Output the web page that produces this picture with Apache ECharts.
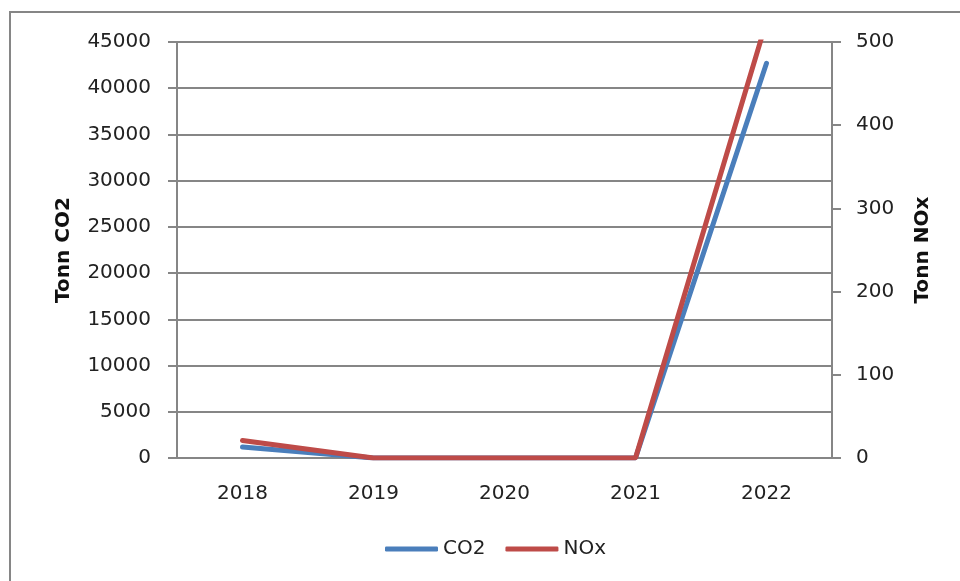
<!DOCTYPE html>
<html lang="en">
<head>
    <meta charset="UTF-8">
    <title>Tonn CO2 / NOx</title>
    <script src="https://cdn.jsdelivr.net/npm/echarts@6/dist/echarts.min.js"></script>
</head>
<body style="margin:0;background:#fff;">
    <div id="main" style="width:960px;height:581px;"></div>
</body>
<script type="text/javascript">
    // data
    var years = ['2018', '2019', '2020', '2021', '2022'];
    var co2 = [1200, 0, 0, 0, 42700];
    var nox = [21, 0, 0, 0, 525];

    var gray = '#868686';
    var font = '"DejaVu Sans", sans-serif';

    var myChart = echarts.init(document.getElementById('main'));

    // plain numbers, no thousands separator
    function plain(v) { return String(v); }

    var option = {
        animation: false,
        textStyle: { fontFamily: font },
        graphic: [{
            type: 'rect',
            shape: { x: 10, y: 12, width: 1000, height: 1000 },
            style: { fill: 'none', stroke: gray, lineWidth: 2 },
            silent: true
        }],
        grid: { left: 177, right: 128, top: 42, bottom: 123 },
        legend: {
            bottom: 17,
            left: 380,
            itemWidth: 53,
            itemHeight: 5,
            itemGap: 20,
            textStyle: { fontSize: 20, color: '#222', fontFamily: font },
            data: [
                { name: 'CO2', icon: 'roundRect' },
                { name: 'NOx', icon: 'roundRect' }
            ]
        },
        xAxis: {
            type: 'category',
            data: years,
            boundaryGap: true,
            axisLine: { lineStyle: { color: gray, width: 2 } },
            axisTick: { length: 8, lineStyle: { color: gray, width: 2 } },
            axisLabel: { fontSize: 20, color: '#222', margin: 26 }
        },
        yAxis: [{
            type: 'value',
            min: 0, max: 45000, interval: 5000,
            name: 'Tonn CO2',
            nameLocation: 'middle',
            nameGap: 103,
            nameTextStyle: { fontSize: 20, fontWeight: 'bold', color: '#111' },
            axisLine: { show: true, lineStyle: { color: gray, width: 2 } },
            axisTick: { show: true, length: 9, lineStyle: { color: gray, width: 2 } },
            axisLabel: { fontSize: 20, color: '#222', margin: 26, formatter: plain },
            splitLine: { lineStyle: { color: gray, width: 2 } }
        }, {
            type: 'value',
            position: 'right',
            min: 0, max: 500, interval: 100,
            name: 'Tonn NOx',
            nameLocation: 'middle',
            nameGap: 81,
            nameTextStyle: { fontSize: 20, fontWeight: 'bold', color: '#111' },
            axisLine: { show: true, lineStyle: { color: gray, width: 2 } },
            axisTick: { show: true, length: 9, lineStyle: { color: gray, width: 2 } },
            axisLabel: { fontSize: 20, color: '#222', margin: 24, formatter: plain },
            splitLine: { show: false }
        }],
        series: [{
            name: 'CO2',
            type: 'line',
            yAxisIndex: 0,
            data: co2,
            showSymbol: false,
            symbol: 'none',
            color: '#4A7EBB',
            lineStyle: { width: 5, cap: 'round' }
        }, {
            name: 'NOx',
            type: 'line',
            yAxisIndex: 1,
            data: nox,
            showSymbol: false,
            symbol: 'none',
            color: '#BE4B48',
            lineStyle: { width: 5, cap: 'round' }
        }]
    };

    myChart.setOption(option);
</script>
</html>
